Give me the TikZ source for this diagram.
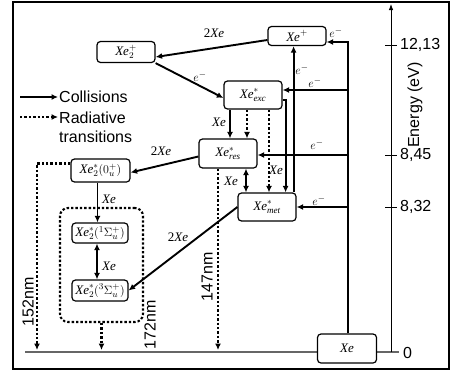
\documentclass[tikz,border=0pt]{standalone}
\usepackage{fontspec}
\setmainfont{Liberation Serif}
\setsansfont{Liberation Sans}
\usetikzlibrary{arrows.meta,calc}
\begin{document}
\begin{tikzpicture}[x=1pt,y=-1pt,
 box/.style={draw,line width=1.2pt,rounded corners=3.5pt,fill=white,inner sep=0pt,font=\fontsize{13}{15}\selectfont},
 arr/.style={line width=1.9pt,-{Latex[length=6.5pt,width=6pt]}},
 darr/.style={line width=1.9pt,{Latex[length=6.5pt,width=6pt]}-{Latex[length=6.5pt,width=6pt]}},
 dotted line/.style={line width=2.1pt,dash pattern=on 2.4pt off 2pt},
 dotarr/.style={dotted line,-{Latex[length=6.5pt,width=6pt]}},
 lbl/.style={font=\fontsize{13}{15}\selectfont\itshape,inner sep=0pt},
 sans/.style={font=\fontsize{16}{18}\selectfont\sffamily,inner sep=0pt},
]
\useasboundingbox (0,0) rectangle (452,372);
% frame
\draw[line width=2pt] (13,2) rectangle (449,369);
% ground line and energy axis
\coordinate (g0) at (25,352);
\coordinate (g1) at (399,352);
\draw[line width=1.5pt,black!60] (g0) -- (g1);
\coordinate (ax0) at (391,352);
\coordinate (ax1) at (391,4);
\draw[line width=0.8pt,-{Latex[length=6pt,width=4.5pt]}] (ax0) -- (ax1);
\foreach \y/\t/\n in {45/12{,}13/t1,155/8{,}45/t2,207/8{,}32/t3}{
  \draw[line width=0.8pt] (385,\y) -- (397,\y);
  \node[sans,anchor=west] (\n) at (400,\y) {\t};
}
\node[sans,anchor=west] (t0) at (403,353) {0};
\node[sans,rotate=90] (en) at (415,105) {Energy (eV)};

% nodes
\node[box,minimum width=58pt,minimum height=19pt] (xep) at (297,36) {$\mathit{Xe}^{+}$};
\node[box,minimum width=58pt,minimum height=21pt] (xe2p) at (126,52) {$\mathit{Xe}^{+}_{2}$};
\node[box,minimum width=58pt,minimum height=28pt] (exc) at (253,95) {$\mathit{Xe}^{*}_{\mathit{exc}}$};
\node[box,minimum width=58pt,minimum height=29pt] (res) at (228,153.5) {$\mathit{Xe}^{*}_{\mathit{res}}$};
\node[box,minimum width=58pt,minimum height=28pt] (met) at (267,207) {$\mathit{Xe}^{*}_{\mathit{met}}$};
\node[box,minimum width=59pt,minimum height=23pt] (x0u) at (100.5,170.5) {$\mathit{Xe}^{*}_{2}(0^{+}_{u})$};
\node[box,minimum width=56pt,minimum height=20pt] (s1) at (100,233) {$\mathit{Xe}^{*}_{2}({}^{1}\Sigma^{+}_{u})$};
\node[box,minimum width=56pt,minimum height=21pt] (s3) at (100,290.5) {$\mathit{Xe}^{*}_{2}({}^{3}\Sigma^{+}_{u})$};
\node[box,minimum width=59pt,minimum height=29pt] (xe) at (347,348.5) {$\mathit{Xe}$};
\node[dotted line,draw,rounded corners=8pt,minimum width=83pt,minimum height=114pt] (grp) at (101.5,265) {};

% collisions
\draw[arr] ([yshift=-4pt]xep.west) -- ([yshift=-5pt]xe2p.east);
\draw[arr] (xe2p.south east) -- ([yshift=-3pt]exc.west);
\coordinate (v) at ([xshift=1pt]xe.north);
\draw[arr] (v) |- ([yshift=-6pt]xep.east);
\coordinate (excin) at ([yshift=5pt]exc.east);
\coordinate (resin) at ([yshift=-1.5pt]res.east);
\coordinate (metin) at (met.east);
\draw[arr] (v |- excin) -- (excin);
\draw[arr] (v |- resin) -- (resin);
\draw[arr] (v |- metin) -- (metin);
\coordinate (m1) at ([xshift=-3pt]met.north east);
\draw[arr] (m1) -- (m1 |- xep.south);
\coordinate (eo) at ([yshift=-5pt]exc.east);
\draw[arr] (eo) -- ++(3,0) coordinate (eo2) -- (eo2 |- met.north);
\coordinate (c2) at ([xshift=-23pt]exc.south);
\draw[arr] (c2) -- (c2 |- res.north);
\coordinate (c3) at ([xshift=-6pt]exc.south);
\draw[dotarr] (c3) -- (c3 |- res.north);
\coordinate (c4) at ([xshift=16pt]exc.south);
\draw[dotarr] (c4) -- (c4 |- met.north);
\coordinate (c5) at ([xshift=18pt]res.south);
\draw[darr] (c5) -- (c5 |- met.north);
\coordinate (c6) at ([xshift=-10pt]res.south);
\coordinate (c6e) at (c6 |- 0,350);
\draw[dotarr] (c6) -- (c6e);
\draw[arr] ([yshift=-3pt]res.west) -- ([yshift=-2pt]x0u.east);
\coordinate (c7) at ([xshift=-3pt]x0u.south);
\draw[arr] (c7) -- (c7 |- s1.north);
\coordinate (c8) at ([xshift=-3pt]s1.south);
\draw[darr] (c8) -- (c8 |- s3.north);
\draw[arr] (met.west) -- (s3.east);
% radiative
\coordinate (d1) at ([yshift=7pt]x0u.west);
\coordinate (d2) at (37,350);
\draw[dotarr] (d1) -| (d2);
\coordinate (d3) at (grp.south |- 0,350);
\draw[dotarr] (grp.south) -- (d3);

% labels
\node[lbl] (la1) at (214,33) {{\upshape 2}Xe};
\node[lbl] (la2) at (161,151) {{\upshape 2}Xe};
\node[lbl] (la3) at (178,237) {{\upshape 2}Xe};
\node[lbl] (la4) at (200,77) {$e^{-}$};
\node[lbl] (la5) at (315,83) {$e^{-}$};
\node[lbl] (la6) at (317,145) {$e^{-}$};
\node[lbl] (la7) at (319,201) {$e^{-}$};
\node[lbl] (la8) at (302,70) {$e^{-}$};
\node[lbl] (la9) at (336,33) {$e^{-}$};
\node[lbl] (lb1) at (219,122) {Xe};
\node[lbl] (lb2) at (276,170) {Xe};
\node[lbl] (lb3) at (231,181) {Xe};
\node[lbl] (lb4) at (109,199) {Xe};
\node[lbl] (lb5) at (109,266) {Xe};
\node[sans,rotate=90] (n147) at (207,277) {147nm};
\node[sans,rotate=90] (n152) at (28,302) {152nm};
\node[sans,rotate=90] (n172) at (150,325) {172nm};

% legend
\coordinate (lg1) at (20,97);
\coordinate (lg2) at (58,97);
\coordinate (lg3) at (20,117);
\coordinate (lg4) at (58,117);
\draw[arr] (lg1) -- (lg2);
\draw[dotarr] (lg3) -- (lg4);
\node[sans,anchor=west] (lc) at (59,97) {Collisions};
\node[sans,anchor=west] (lr) at (59,117.5) {Radiative};
\node[sans,anchor=west] (lt) at (59,137) {transitions};
\end{tikzpicture}
\end{document}
